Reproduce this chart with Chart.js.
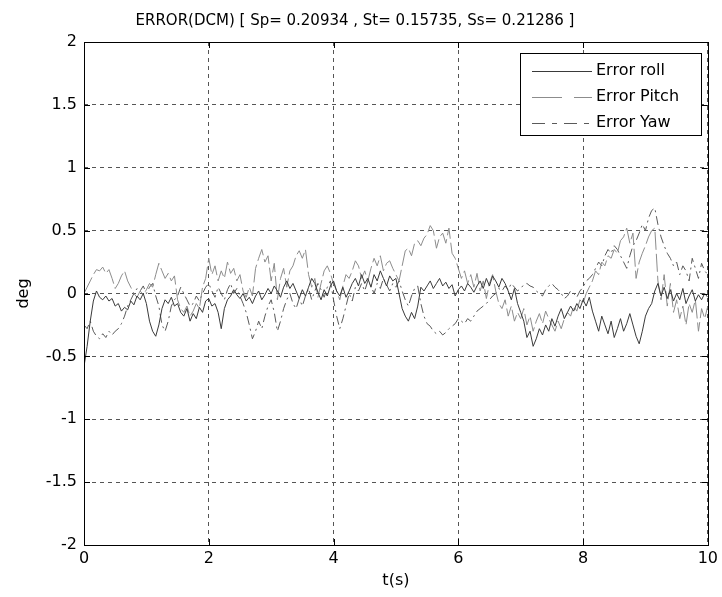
<!DOCTYPE html>
<html>
<head>
<meta charset="utf-8">
<script src="https://cdn.jsdelivr.net/npm/chart.js@4.4.0/dist/chart.umd.min.js"></script>
<style>
  body { margin: 0; background: #fff; }
  #wrap { width: 722px; height: 597px; }
</style>
</head>
<body>
<div id="wrap"><canvas id="errChart" width="722" height="597"></canvas></div>
<script>
// sample step of the recorded signals (s)
const tStep = 0.05;

const rollErr = [
  -0.58, -0.42, -0.22, -0.06, 0.02, -0.03, -0.05, -0.02, -0.06, -0.04,
  -0.10, -0.08, -0.14, -0.11, -0.13, -0.06, -0.09, -0.02, -0.05, 0.00,
  -0.08, -0.22, -0.30, -0.34, -0.25, -0.12, -0.05, -0.08, -0.03, -0.10,
  -0.08, -0.15, -0.18, -0.12, -0.22, -0.16, -0.20, -0.11, -0.15, -0.06,
  -0.04, -0.10, -0.08, -0.15, -0.28, -0.12, -0.05, -0.02, 0.03, -0.01,
  -0.04, 0.00, -0.06, -0.03, -0.08, -0.02, 0.02, -0.05, -0.01, 0.04,
  0.00, 0.06, 0.02, -0.03, 0.05, 0.10, 0.04, 0.08, 0.02, -0.04,
  0.03, -0.02, 0.05, 0.12, 0.08, 0.01, -0.05, 0.03, -0.02, 0.06,
  0.10, 0.02, -0.02, 0.05, -0.03, 0.02, 0.08, 0.12, 0.06, 0.15,
  0.08, 0.12, 0.05, 0.15, 0.10, 0.18, 0.12, 0.06, 0.14, 0.10,
  0.12, 0.00, -0.12, -0.18, -0.22, -0.15, -0.20, -0.10, 0.05, 0.02,
  0.06, 0.10, 0.04, 0.08, 0.12, 0.06, 0.09, 0.04, 0.07, -0.02,
  0.03, 0.06, 0.02, 0.08, 0.05, 0.01, 0.06, 0.10, 0.04, 0.12,
  0.06, 0.14, 0.10, 0.05, 0.12, 0.08, 0.02, -0.05, 0.04, -0.08,
  -0.15, -0.22, -0.35, -0.30, -0.42, -0.36, -0.28, -0.33, -0.25, -0.30,
  -0.20, -0.26, -0.18, -0.12, -0.20, -0.15, -0.10, -0.14, -0.08, -0.12,
  -0.05, -0.10, -0.03, -0.14, -0.22, -0.30, -0.18, -0.25, -0.32, -0.22,
  -0.35, -0.28, -0.20, -0.30, -0.24, -0.16, -0.25, -0.34, -0.40, -0.30,
  -0.18, -0.12, -0.08, 0.02, 0.08, -0.02, 0.05, -0.04, 0.03, -0.06,
  0.00, -0.05, 0.04, -0.08, -0.02, 0.03, -0.06, -0.01, -0.05, 0.00,
  -0.03
];

const pitchErr = [
  0.00, 0.05, 0.10, 0.15, 0.19, 0.18, 0.21, 0.16, 0.19, 0.12,
  0.04, 0.08, 0.14, 0.18, 0.10, 0.05, 0.00, -0.03, 0.02, -0.01,
  0.03, 0.08, 0.05, 0.15, 0.24, 0.18, 0.12, 0.16, 0.10, 0.14,
  -0.05, -0.12, -0.15, -0.10, -0.18, -0.14, -0.08, -0.12, 0.05, 0.12,
  0.28, 0.15, 0.22, 0.10, 0.18, 0.12, 0.25, 0.16, 0.20, 0.10,
  0.15, 0.02, -0.03, 0.05, -0.02, 0.20, 0.28, 0.35, 0.25, 0.30,
  0.10, 0.24, -0.05, 0.12, 0.20, 0.05, 0.18, 0.22, 0.30, 0.34,
  0.28, 0.35, 0.15, 0.05, 0.12, -0.03, 0.08, 0.18, 0.22, 0.16,
  0.08, 0.02, -0.05, 0.06, 0.15, 0.12, 0.18, 0.26, 0.22, 0.12,
  0.18, 0.10, 0.20, 0.28, 0.22, 0.30, 0.18, 0.24, 0.26, 0.20,
  0.15, 0.10, 0.22, 0.34, 0.36, 0.30, 0.40, 0.42, 0.38, 0.44,
  0.47, 0.54, 0.50, 0.36, 0.45, 0.48, 0.40, 0.52, 0.32, 0.28,
  0.20, 0.12, 0.18, 0.08, 0.15, 0.05, 0.16, 0.02, 0.10, -0.04,
  0.08, 0.15, 0.02, -0.08, -0.12, -0.05, -0.18, -0.10, -0.22, -0.15,
  -0.20, -0.12, -0.25, -0.18, -0.30, -0.22, -0.16, -0.24, -0.14, -0.20,
  -0.25, -0.30, -0.22, -0.28, -0.20, -0.15, -0.18, -0.10, -0.14, -0.05,
  -0.08, 0.00, 0.05, 0.10, 0.18, 0.15, 0.25, 0.22, 0.30, 0.28,
  0.35, 0.32, 0.42, 0.45, 0.52, 0.40, 0.48, 0.12, 0.25, 0.32,
  0.38, 0.45, 0.50, 0.52, 0.10, -0.05, 0.15, -0.10, 0.08, -0.15,
  -0.05, -0.20, -0.10, -0.25, -0.08, -0.15, -0.05, -0.30, -0.12, -0.20,
  -0.10
];

const yawErr = [
  -0.25, -0.28, -0.22, -0.30, -0.34, -0.36, -0.32, -0.35, -0.30, -0.33,
  -0.30, -0.28, -0.24, -0.18, -0.10, -0.05, 0.00, 0.04, 0.02, 0.06,
  0.00, 0.05, 0.08, -0.02, -0.10, -0.25, -0.30, -0.22, -0.10, -0.05,
  -0.02, 0.05, 0.00, -0.05, -0.10, -0.08, -0.02, -0.06, 0.00, 0.05,
  0.08, 0.02, -0.03, 0.05, 0.00, -0.05, 0.03, 0.08, 0.00, 0.04,
  -0.02, -0.08, -0.15, -0.25, -0.36, -0.30, -0.22, -0.28, -0.18, -0.10,
  -0.05, -0.15, -0.30, -0.22, -0.12, -0.05, 0.00, -0.08, -0.12, -0.04,
  -0.10, -0.02, 0.04, -0.05, 0.02, 0.08, 0.03, -0.03, 0.05, 0.10,
  -0.05, -0.18, -0.28, -0.20, -0.10, 0.00, -0.06, 0.05, 0.02, 0.08,
  0.02, 0.10, 0.06, 0.00, 0.08, 0.04, 0.12, 0.07, 0.02, 0.08,
  0.05, 0.10, 0.02, -0.05, -0.10, -0.02, 0.04, 0.06, -0.08, -0.18,
  -0.24, -0.26, -0.30, -0.32, -0.30, -0.33, -0.31, -0.28, -0.26, -0.24,
  -0.20, -0.22, -0.24, -0.20, -0.22, -0.18, -0.14, -0.12, -0.10, -0.08,
  -0.05, -0.02, 0.00, 0.04, 0.02, 0.06, 0.03, 0.08, 0.05, 0.02,
  0.04, 0.07, 0.08, 0.06, 0.05, 0.02, 0.00, -0.02, 0.03, 0.06,
  0.08, 0.05, 0.03, 0.00, -0.04, -0.02, 0.02, 0.00, -0.03, 0.02,
  0.05, 0.10, 0.12, 0.15, 0.20, 0.25, 0.22, 0.30, 0.35, 0.32,
  0.38, 0.35, 0.30, 0.25, 0.20, 0.30, 0.38, 0.42, 0.48, 0.55,
  0.50, 0.60, 0.66, 0.68, 0.55, 0.45, 0.38, 0.32, 0.28, 0.22,
  0.25, 0.15, 0.22, 0.18, 0.10, 0.28, 0.20, 0.12, 0.24, 0.18,
  0.15
];

const xTicks = [0, 2, 4, 6, 8, 10];
const yTicks = [-2, -1.5, -1, -0.5, 0, 0.5, 1, 1.5, 2];

function toPoints(vals) {
  return vals.map((v, i) => ({ x: +(i * tStep).toFixed(2), y: v }));
}

const FONT = '"DejaVu Sans", sans-serif';

// box round the axes + inward ticks, matlab style
const axesBox = {
  id: 'axesBox',
  afterDatasetsDraw(chart) {
    const { ctx, chartArea: a, scales } = chart;
    ctx.save();
    ctx.strokeStyle = '#000';
    ctx.lineWidth = 1;
    ctx.setLineDash([]);
    ctx.beginPath();
    xTicks.forEach(t => {
      const px = Math.round(scales.x.getPixelForValue(t)) + 0.5;
      ctx.moveTo(px, a.bottom); ctx.lineTo(px, a.bottom - 6);
      ctx.moveTo(px, a.top); ctx.lineTo(px, a.top + 6);
    });
    yTicks.forEach(t => {
      const py = Math.round(scales.y.getPixelForValue(t)) + 0.5;
      ctx.moveTo(a.left, py); ctx.lineTo(a.left + 6, py);
      ctx.moveTo(a.right, py); ctx.lineTo(a.right - 6, py);
    });
    ctx.stroke();
    ctx.strokeRect(Math.round(a.left) + 0.5, Math.round(a.top) + 0.5,
      Math.round(a.right - a.left), Math.round(a.bottom - a.top));
    ctx.restore();
  }
};

const boxLegend = {
  id: 'boxLegend',
  afterDraw(chart) {
    const { ctx } = chart;
    const x0 = 520, y0 = 53, w = 181, h = 82;
    ctx.save();
    ctx.fillStyle = '#fff';
    ctx.fillRect(x0, y0, w, h);
    ctx.strokeStyle = '#000';
    ctx.lineWidth = 1;
    ctx.strokeRect(x0 + 0.5, y0 + 0.5, w, h);
    ctx.font = '16px ' + FONT;
    ctx.textBaseline = 'middle';
    chart.data.datasets.forEach((ds, i) => {
      const y = y0 + 18 + i * 26;
      ctx.strokeStyle = ds.borderColor;
      ctx.setLineDash(ds.legendDash);
      ctx.beginPath();
      ctx.moveTo(x0 + 12, y + 0.5);
      ctx.lineTo(x0 + 72, y + 0.5);
      ctx.stroke();
      ctx.setLineDash([]);
      ctx.fillStyle = '#000';
      ctx.fillText(ds.label, x0 + 76, y);
    });
    ctx.restore();
  }
};

new Chart(document.getElementById('errChart'), {
  type: 'line',
  data: {
    datasets: [
      { label: 'Error roll', data: toPoints(rollErr), borderColor: '#3a3a3a',
        borderWidth: 1, pointRadius: 0, tension: 0, legendDash: [] },
      { label: 'Error Pitch', data: toPoints(pitchErr), borderColor: '#8c8c8c',
        borderWidth: 1, pointRadius: 0, tension: 0, borderDash: [18, 4], legendDash: [30, 12] },
      { label: 'Error Yaw', data: toPoints(yawErr), borderColor: '#5a5a5a',
        borderWidth: 1, pointRadius: 0, tension: 0, borderDash: [9, 4, 2, 4], legendDash: [13, 7, 5, 7] }
    ]
  },
  options: {
    responsive: false,
    animation: false,
    layout: { padding: { left: 0, right: 12, top: 0, bottom: 0 } },
    plugins: {
      legend: { display: false },
      tooltip: { enabled: false },
      title: {
        display: true,
        text: 'ERROR(DCM) [ Sp= 0.20934 , St= 0.15735, Ss= 0.21286 ]',
        color: '#000',
        font: { family: FONT, size: 15, weight: 'normal' },
        padding: { top: 12, bottom: 12 }
      }
    },
    scales: {
      x: {
        type: 'linear',
        min: 0, max: 10,
        afterFit: s => { s.height = 52; },
        afterBuildTicks: s => { s.ticks = xTicks.map(v => ({ value: v })); },
        ticks: { color: '#000', font: { family: FONT, size: 16 }, padding: 4, maxRotation: 0,
          callback: v => String(v) },
        grid: { color: '#555', drawTicks: false, lineWidth: 1 },
        border: { display: false, dash: [4, 4] },
        title: { display: true, text: 't(s)', color: '#000', font: { family: FONT, size: 16 }, padding: { top: 0, bottom: 7 } }
      },
      y: {
        min: -2, max: 2,
        afterFit: s => { s.width = 84; },
        afterBuildTicks: s => { s.ticks = yTicks.map(v => ({ value: v })); },
        ticks: { color: '#000', font: { family: FONT, size: 16 }, padding: 7,
          callback: v => String(v) },
        grid: { color: '#555', drawTicks: false, lineWidth: 1 },
        border: { display: false, dash: [4, 4] },
        title: { display: true, text: 'deg', color: '#000', font: { family: FONT, size: 16 }, padding: { top: 14, bottom: 0 } }
      }
    }
  },
  plugins: [axesBox, boxLegend]
});
</script>
</body>
</html>
